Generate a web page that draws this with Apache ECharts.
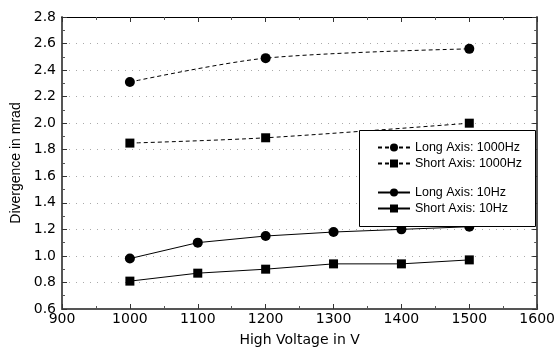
<!DOCTYPE html>
<html>
<head>
<meta charset="utf-8">
<script src="https://cdn.jsdelivr.net/npm/echarts@6/dist/echarts.min.js"></script>
<style>
  html, body { margin: 0; padding: 0; background: #fff; }
  #main { width: 558px; height: 352px; }
</style>
</head>
<body>
<div id="main"></div>
<script>
// 数据
var voltsKhz = [1000, 1200, 1500];
var longKhz = [2.31, 2.49, 2.56];
var shortKhz = [1.85, 1.89, 2.00];
var volts10 = [1000, 1100, 1200, 1300, 1400, 1500];
var long10 = [0.98, 1.10, 1.15, 1.18, 1.20, 1.22];
var short10 = [0.81, 0.87, 0.90, 0.94, 0.94, 0.97];
var seriesNames = ["Long Axis: 1000Hz", "Short Axis: 1000Hz", "Long Axis: 10Hz", "Short Axis: 10Hz"];

function pairs(xs, ys) {
  var out = [];
  for (var i = 0; i < xs.length; i++) out.push([xs[i], ys[i]]);
  return out;
}

var font = "Liberation Sans, Arial, sans-serif";
var wideFont = "DejaVu Sans, sans-serif";
var myChart = echarts.init(document.getElementById("main"));

function mkSeries(name, xs, ys, symbol, size, dashed) {
  return {
    name: name,
    type: "line",
    data: pairs(xs, ys),
    symbol: symbol,
    symbolSize: size,
    smooth: dashed ? 0.3 : false,
    lineStyle: { color: "#000", width: 1, type: dashed ? [4, 3] : "solid" },
    itemStyle: { color: "#000" },
    animation: false
  };
}

var baseX = {
  type: "value", min: 900, max: 1600, interval: 100,
  axisLine: { lineStyle: { color: "#555", width: 2 } },
  axisTick: { inside: true, length: 5, lineStyle: { color: "#333" } },
  minorTick: { show: true, splitNumber: 2, length: 3, lineStyle: { color: "#555" } },
  splitLine: { show: false }
};
var baseY = {
  type: "value", min: 0.6, max: 2.8, interval: 0.2,
  axisLine: { lineStyle: { color: "#555", width: 2 } },
  axisTick: { inside: true, length: 5, lineStyle: { color: "#333" } },
  minorTick: { show: true, splitNumber: 2, length: 3, lineStyle: { color: "#555" } }
};

var legendBase = {
  orient: "vertical", left: 377, padding: 0,
  itemWidth: 32, itemHeight: 10, itemGap: 3,
  textStyle: { fontSize: 12.5, color: "#000", fontFamily: font },
  z: 60
};

var option = {
  backgroundColor: "#fff",
  textStyle: { fontFamily: font },
  grid: { left: 62, right: 17, top: 17, bottom: 40 },
  xAxis: [
    Object.assign({}, baseX, {
      position: "bottom",
      name: "High Voltage in V", nameLocation: "middle", nameGap: 24,
      nameTextStyle: { fontSize: 14, color: "#000", fontFamily: wideFont },
      axisLabel: { fontSize: 14, color: "#000", margin: 3, fontFamily: wideFont,
        formatter: function (v) { return String(v); } }
    }),
    Object.assign({}, baseX, { position: "top", axisLabel: { show: false },
      axisLine: { lineStyle: { color: "#000", width: 1 } } })
  ],
  yAxis: [
    Object.assign({}, baseY, {
      position: "left",
      name: "Divergence in mrad", nameLocation: "middle", nameGap: 38,
      nameTextStyle: { fontSize: 14, color: "#000", fontFamily: font },
      axisLabel: { fontSize: 14, color: "#000", margin: 6, fontFamily: wideFont,
        formatter: function (v) { return v.toFixed(1); } },
      splitLine: { show: true, lineStyle: { color: "#aaa", type: [1, 6], width: 1 } }
    }),
    Object.assign({}, baseY, { position: "right", axisLabel: { show: false },
      splitLine: { show: false } })
  ],
  graphic: [{
    type: "rect",
    shape: { x: 359.5, y: 130.5, width: 176, height: 96 },
    style: { fill: "#fff", stroke: "#000", lineWidth: 1 },
    z: 50
  }],
  legend: [
    Object.assign({}, legendBase, { data: [seriesNames[0], seriesNames[1]], top: 141 }),
    Object.assign({}, legendBase, { data: [seriesNames[2], seriesNames[3]], top: 186 })
  ],
  series: [
    mkSeries(seriesNames[0], voltsKhz, longKhz, "circle", 10, true),
    mkSeries(seriesNames[1], voltsKhz, shortKhz, "rect", 9, true),
    mkSeries(seriesNames[2], volts10, long10, "circle", 10, false),
    mkSeries(seriesNames[3], volts10, short10, "rect", 9, false)
  ]
};

myChart.setOption(option);
</script>
</body>
</html>
